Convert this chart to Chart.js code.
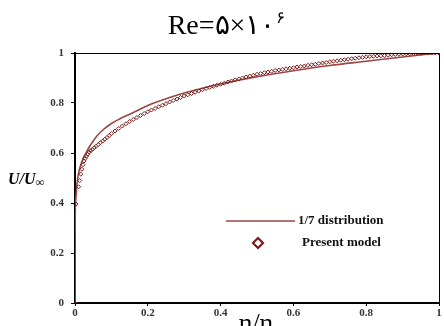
<!DOCTYPE html>
<html>
<head>
<meta charset="utf-8">
<script src="https://cdn.jsdelivr.net/npm/chart.js@4.4.1/dist/chart.umd.min.js"></script>
<style>
  html, body { margin: 0; padding: 0; background: #fff; }
  #wrap { width: 444px; height: 326px; }
</style>
</head>
<body>
<div id="wrap"><canvas id="canvas" width="444" height="326"></canvas></div>
<script>
// 1/7 power law line
const lineX = [0, 0.0005, 0.002, 0.005, 0.01, 0.02, 0.03, 0.04, 0.05, 0.06, 0.075, 0.1, 0.125, 0.15, 0.2, 0.25, 0.3, 0.4, 0.5, 0.6, 0.7, 0.8, 0.9, 1.0];
const lineY = [0, 0.33, 0.41, 0.47, 0.52, 0.57, 0.60, 0.626, 0.648, 0.668, 0.69, 0.718, 0.738, 0.755, 0.79, 0.817, 0.84, 0.876, 0.905, 0.929, 0.95, 0.967, 0.984, 1.0];

// present model markers (dense, they read as a thick band)
const modelX = [0, 0.003, 0.01, 0.013, 0.016, 0.019, 0.022, 0.025, 0.028, 0.031, 0.035, 0.039, 0.043, 0.048, 0.053, 0.058, 0.064, 0.07, 0.076, 0.082, 0.088, 0.094,
    0.10, 0.11, 0.12, 0.13, 0.14, 0.15, 0.16, 0.17, 0.18, 0.19,
    0.20, 0.21, 0.22, 0.23, 0.24, 0.25, 0.26, 0.27, 0.28, 0.29,
    0.30, 0.31, 0.32, 0.33, 0.34, 0.35, 0.36, 0.37, 0.38, 0.39,
    0.40, 0.41, 0.42, 0.43, 0.44, 0.45, 0.46, 0.47, 0.48, 0.49,
    0.50, 0.51, 0.52, 0.53, 0.54, 0.55, 0.56, 0.57, 0.58, 0.59,
    0.60, 0.61, 0.62, 0.63, 0.64, 0.65, 0.66, 0.67, 0.68, 0.69,
    0.70, 0.71, 0.72, 0.73, 0.74, 0.75, 0.76, 0.77, 0.78, 0.79,
    0.80, 0.81, 0.82, 0.83, 0.84, 0.85, 0.86, 0.87, 0.88, 0.89,
    0.90, 0.91, 0.92, 0.93, 0.94, 0.95, 0.96, 0.97, 0.98, 0.99, 1.0];
const modelY = [0, 0.396, 0.465, 0.49, 0.515, 0.535, 0.553, 0.568, 0.578, 0.587, 0.595, 0.603, 0.609, 0.615, 0.621, 0.627, 0.634, 0.641, 0.648, 0.655, 0.662, 0.670,
    0.678, 0.688, 0.698, 0.708, 0.717, 0.726, 0.734, 0.742, 0.750, 0.758,
    0.765, 0.772, 0.778, 0.785, 0.791, 0.797, 0.804, 0.810, 0.816, 0.822,
    0.828, 0.833, 0.838, 0.843, 0.848, 0.853, 0.858, 0.862, 0.867, 0.871,
    0.875, 0.879, 0.884, 0.888, 0.892, 0.896, 0.900, 0.904, 0.908, 0.911,
    0.915, 0.918, 0.921, 0.924, 0.927, 0.930, 0.932, 0.935, 0.937, 0.939,
    0.941, 0.944, 0.946, 0.948, 0.951, 0.953, 0.955, 0.958, 0.960, 0.962,
    0.965, 0.967, 0.969, 0.971, 0.973, 0.975, 0.977, 0.979, 0.981, 0.983,
    0.985, 0.986, 0.987, 0.988, 0.989, 0.990, 0.991, 0.993, 0.994, 0.995,
    0.996, 0.997, 0.997, 0.998, 0.999, 0.999, 1.0, 1.0, 1.0, 1.0, 1.0];

const xTicks = [0, 0.2, 0.4, 0.6, 0.8, 1];
const yTicks = [0, 0.2, 0.4, 0.6, 0.8, 1];

const lineColor = '#9a4644';
const markColor = '#7a1c1c';
const serif = '"Liberation Serif", "Times New Roman", serif';

// extra drawing: frame, title, axis names, legend
const decor = {
    id: 'decor',
    afterDraw(chart) {
        const ctx = chart.ctx;
        const a = chart.chartArea;
        ctx.save();

        // top and right edge of frame
        ctx.strokeStyle = '#000';
        ctx.lineWidth = 1;
        ctx.beginPath();
        ctx.moveTo(a.left, a.top + 0.5);
        ctx.lineTo(a.right + 0.5, a.top + 0.5);
        ctx.lineTo(a.right + 0.5, a.bottom);
        ctx.stroke();

        // title
        ctx.fillStyle = '#000';
        ctx.textBaseline = 'alphabetic';
        ctx.textAlign = 'left';
        const main = 'Re=۵×۱۰';
        const sup = '۶';
        ctx.font = '28px ' + serif;
        const w1 = ctx.measureText(main).width;
        ctx.font = '17px ' + serif;
        const w2 = ctx.measureText(sup).width;
        let tx = 226 - (w1 + w2) / 2;
        ctx.font = '28px ' + serif;
        ctx.fillText(main, tx, 34);
        ctx.font = '17px ' + serif;
        ctx.fillText(sup, tx + w1 + 1, 23);

        // y axis name
        ctx.font = 'bold italic 16px ' + serif;
        ctx.fillText('U/U', 8, 184);
        const wu = ctx.measureText('U/U').width;
        ctx.font = 'bold 12px ' + serif;
        ctx.fillText('∞', 8 + wu, 186);

        // x axis name (cut at the bottom)
        ctx.font = '26px ' + serif;
        ctx.textAlign = 'center';
        ctx.fillText('η/η', 256, 331);

        // legend
        ctx.textAlign = 'left';
        ctx.textBaseline = 'middle';
        ctx.strokeStyle = lineColor;
        ctx.lineWidth = 1.5;
        ctx.beginPath();
        ctx.moveTo(226, 221);
        ctx.lineTo(295, 221);
        ctx.stroke();
        ctx.font = 'bold 13px ' + serif;
        ctx.fillStyle = '#111';
        ctx.fillText('1/7 distribution', 298, 221);

        ctx.strokeStyle = markColor;
        ctx.lineWidth = 2.2;
        ctx.beginPath();
        ctx.moveTo(258, 238);
        ctx.lineTo(263, 243);
        ctx.lineTo(258, 248);
        ctx.lineTo(253, 243);
        ctx.closePath();
        ctx.stroke();
        ctx.fillText('Present model', 302, 243);

        ctx.restore();
    }
};

const ctx = document.getElementById('canvas').getContext('2d');
new Chart(ctx, {
    type: 'scatter',
    data: {
        datasets: [{
            label: '1/7 distribution',
            data: lineX.map((x, i) => ({x: x, y: lineY[i]})),
            showLine: true,
            borderColor: lineColor,
            borderWidth: 1.6,
            pointRadius: 0,
            cubicInterpolationMode: 'monotone',
            order: 2
        }, {
            label: 'Present model',
            data: modelX.map((x, i) => ({x: x, y: modelY[i]})),
            showLine: false,
            pointStyle: 'rectRot',
            pointRadius: 2,
            pointBorderWidth: 1,
            pointBorderColor: markColor,
            pointBackgroundColor: 'rgba(255,255,255,0)',
            order: 1
        }]
    },
    options: {
        responsive: false,
        animation: false,
        layout: {padding: {top: 53, right: 3, left: 0, bottom: 0}},
        plugins: {
            legend: {display: false},
            title: {display: false},
            tooltip: {enabled: false}
        },
        scales: {
            x: {
                type: 'linear',
                min: 0,
                max: 1,
                afterFit: s => { s.height = 23; },
                afterBuildTicks: s => { s.ticks = xTicks.map(v => ({value: v})); },
                ticks: {
                    font: {family: serif, size: 11, weight: 'bold'},
                    color: '#333',
                    padding: 1,
                    maxRotation: 0,
                    callback: v => String(v)
                },
                grid: {drawOnChartArea: false, tickLength: 3, tickColor: '#000'},
                border: {color: '#000', width: 2}
            },
            y: {
                type: 'linear',
                min: 0,
                max: 1,
                afterFit: s => { s.width = 75; },
                afterBuildTicks: s => { s.ticks = yTicks.map(v => ({value: v})); },
                ticks: {
                    font: {family: serif, size: 11, weight: 'bold'},
                    color: '#333',
                    padding: 7,
                    callback: v => String(v)
                },
                grid: {drawOnChartArea: false, tickLength: 4, tickColor: '#000'},
                border: {color: '#000', width: 2}
            }
        }
    },
    plugins: [decor]
});
</script>
</body>
</html>
